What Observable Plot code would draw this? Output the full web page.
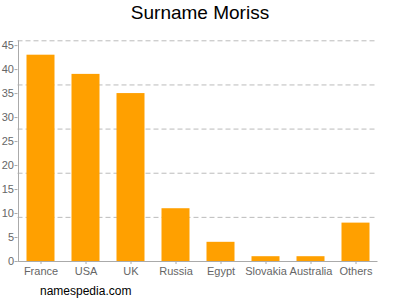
<!DOCTYPE html>
<html><head><meta charset="utf-8">
<script src="https://cdn.jsdelivr.net/npm/d3@7"></script>
<script src="https://cdn.jsdelivr.net/npm/@observablehq/plot@0.6"></script>
<style>
body{margin:0;background:#fff;font-family:Arial,"Liberation Sans",sans-serif;}
#wrap{position:relative;width:400px;height:300px;overflow:hidden;}
#title{position:absolute;left:0;width:400px;top:2px;text-align:center;font-size:19px;color:#000;}
#foot{position:absolute;left:40px;top:284px;font-size:12px;color:#000;}
#chart{position:absolute;left:0;top:0;}
</style></head>
<body>
<div id="wrap"><div id="chart"></div><div id="title">Surname Moriss</div><div id="foot">namespedia.com</div></div>
<script>
const countries = ["France","USA","UK","Russia","Egypt","Slovakia","Australia","Others"];
const counts = [43,39,35,11,4,1,1,8];
const yTicks = [0,5,10,15,20,25,30,35,40,45];
const gridLines = [9.2,18.4,27.6,36.8,46];
const data = countries.map((c,i)=>({country:c,count:counts[i]}));

const chart = Plot.plot({
  width:400, height:300,
  marginTop:40.3, marginBottom:39, marginLeft:17.5, marginRight:22.5,
  style:{fontFamily:'Arial,"Liberation Sans",sans-serif',fontSize:"11px",color:"#666",background:"transparent"},
  x:{domain:countries, padding:0, label:null},
  y:{domain:[0,46], label:null},
  marks:[
    Plot.ruleY(gridLines,{stroke:"#bbb",strokeDasharray:"5,3",strokeWidth:1}),
    Plot.barY(data,{x:"country",y:"count",fill:"#FFA000",insetLeft:8.5,insetRight:8.5}),
    Plot.ruleY([0],{stroke:"#aaa"}),
    Plot.ruleX([countries[0]],{stroke:"#aaa",dx:-22.5,y1:0,y2:46}),
    Plot.axisY({ticks:yTicks,tickSize:3,tickPadding:1,stroke:"#aaa",fill:"#666",fontSize:11,label:null}),
    Plot.axisX({tickSize:3,tickPadding:3,stroke:"#aaa",fill:"#666",fontSize:11,label:null})
  ]
});
document.getElementById("chart").appendChild(chart);
</script>
</body></html>
